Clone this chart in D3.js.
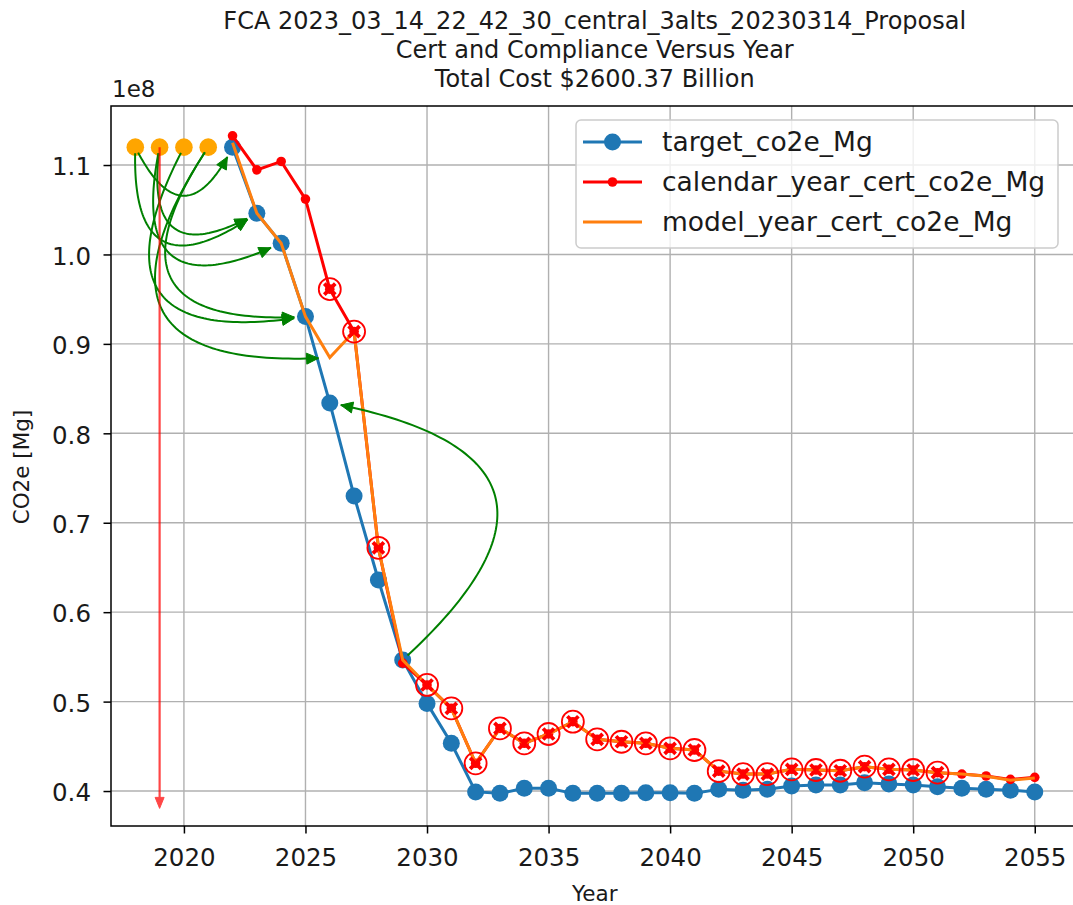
<!DOCTYPE html>
<html><head><meta charset="utf-8">
<script src="https://cdn.jsdelivr.net/npm/d3@7"></script>
<style>
body{margin:0;background:#fff}
svg{display:block}
text{font-family:"DejaVu Sans",sans-serif;fill:#1a1a1a}
</style>
</head><body>
<svg id="c" width="1073" height="905"></svg>
<script>
// ---------------- data (values in units of 1e8 Mg) ----------------
const years = [2022,2023,2024,2025,2026,2027,2028,2029,2030,2031,2032,2033,2034,2035,2036,2037,2038,2039,2040,2041,2042,2043,2044,2045,2046,2047,2048,2049,2050,2051,2052,2053,2054,2055];
const targetCo2e = [1.120,1.046,1.0126,0.9305,0.834,0.730,0.636,0.5465,0.498,0.4534,0.399,0.3974,0.403,0.403,0.3974,0.3974,0.3974,0.398,0.398,0.3974,0.4019,0.401,0.402,0.4056,0.4067,0.4067,0.4093,0.408,0.4067,0.4048,0.403,0.402,0.401,0.399];
const calendarCertCo2e = [1.1327,1.0946,1.104,1.0619,0.9612,0.9138,0.672,0.543,0.5186,0.4925,0.431,0.470,0.4534,0.4638,0.4775,0.4578,0.4551,0.4534,0.4478,0.4459,0.4222,0.419,0.419,0.4243,0.4235,0.4227,0.4272,0.4243,0.4235,0.4205,0.419,0.4168,0.413,0.4153];
const modelCertCo2e = [1.125,1.046,1.0126,0.9305,0.8847,0.9138,0.672,0.5465,0.5186,0.4925,0.431,0.470,0.4534,0.4638,0.4775,0.4578,0.4551,0.4534,0.4478,0.4459,0.4222,0.419,0.419,0.4243,0.4235,0.4227,0.4272,0.4243,0.4235,0.4205,0.419,0.4165,0.412,0.4145];
const circledYears = [2026,2027,2028,2030,2031,2032,2033,2034,2035,2036,2037,2038,2039,2040,2041,2042,2043,2044,2045,2046,2047,2048,2049,2050,2051];
const creditYears = [2018,2019,2020,2021];
const creditValues = [1.12,1.12,1.12,1.12];
// credit transfers (green arrows)
const transferFromYear  = [2018,2018,2019,2019,2020,2021,2021,2029];
const transferFromValue = [1.12,1.12,1.12,1.12,1.12,1.12,1.12,0.5465];
const transferToYear    = [2022,2023,2023,2024,2025,2025,2026,2026];
const transferToValue   = [1.120,1.046,1.046,1.0126,0.9305,0.9305,0.8847,0.834];
// expired credit (red arrow)
const expireYear = 2019, expireFrom = 1.12, expireTo = 0.3806;
const xTicks = [2020,2025,2030,2035,2040,2045,2050,2055];
const yTicks = [0.4,0.5,0.6,0.7,0.8,0.9,1.0,1.1];
const yTickLabels = ["0.4","0.5","0.6","0.7","0.8","0.9","1.0","1.1"];
const seriesNames = ["target_co2e_Mg","calendar_year_cert_co2e_Mg","model_year_cert_co2e_Mg"];
const titleLines = ["FCA 2023_03_14_22_42_30_central_3alts_20230314_Proposal","Cert and Compliance Versus Year","Total Cost $2600.37 Billion"];

// ---------------- layout ----------------
const svg = d3.select("#c");
const L = 111, R = 1078.5, T = 106, B = 826;
const x = d3.scaleLinear().domain([2017.0, 2056.8]).range([L, R]);
const y = d3.scaleLinear().domain([0.3609, 1.166]).range([B, T]);
const C_BLUE = "#1f77b4", C_RED = "#ff0000", C_ORANGE = "#ff7f0e", C_GREEN = "#008000";

svg.append("rect").attr("width",1073).attr("height",905).attr("fill","#fff");

// grid
const grid = svg.append("g");
grid.selectAll("line.gx").data(xTicks).join("line")
  .attr("x1", d=>x(d)).attr("x2", d=>x(d)).attr("y1",T).attr("y2",B)
  .attr("stroke","#b0b0b0").attr("stroke-width",1.4);
grid.selectAll("line.gy").data(yTicks).join("line")
  .attr("y1", d=>y(d)).attr("y2", d=>y(d)).attr("x1",L).attr("x2",R)
  .attr("stroke","#b0b0b0").attr("stroke-width",1.4);

const plot = svg.append("g");
const line = (vals) => d3.line().x((d,i)=>x(years[i])).y(d=>y(d))(vals);

// target
plot.append("path").attr("d", line(targetCo2e)).attr("fill","none")
  .attr("stroke",C_BLUE).attr("stroke-width",3);
plot.selectAll("circle.t").data(targetCo2e).join("circle")
  .attr("cx",(d,i)=>x(years[i])).attr("cy",d=>y(d)).attr("r",8.5).attr("fill",C_BLUE);

// calendar year cert
plot.append("path").attr("d", line(calendarCertCo2e)).attr("fill","none")
  .attr("stroke",C_RED).attr("stroke-width",3);
plot.selectAll("circle.c").data(calendarCertCo2e).join("circle")
  .attr("cx",(d,i)=>x(years[i])).attr("cy",d=>y(d)).attr("r",4.8).attr("fill",C_RED);

// model year cert
plot.append("path").attr("d", line(modelCertCo2e)).attr("fill","none")
  .attr("stroke",C_ORANGE).attr("stroke-width",3);

// circled markers
const circ = plot.selectAll("g.m").data(circledYears).join("g")
  .attr("transform", d => `translate(${x(d)},${y(calendarCertCo2e[years.indexOf(d)])})`);
circ.append("circle").attr("r",11).attr("fill","none").attr("stroke",C_RED).attr("stroke-width",1.8);
circ.append("path").attr("d","M-5.5,-5.5L5.5,5.5M-5.5,5.5L5.5,-5.5").attr("stroke",C_RED).attr("stroke-width",3.8).attr("stroke-linecap","butt");

// credit points
plot.selectAll("circle.cr").data(creditValues).join("circle")
  .attr("cx",(d,i)=>x(creditYears[i])).attr("cy",d=>y(d)).attr("r",8.8).attr("fill","#ffa500");

// arrows
function arrowHead(g, tip, dir, color, len, hw){
  const n = Math.hypot(dir[0],dir[1]); const ux=dir[0]/n, uy=dir[1]/n;
  const bx = tip[0]-ux*len, by = tip[1]-uy*len;
  g.append("path").attr("d",`M${tip[0]},${tip[1]}L${bx-uy*hw},${by+ux*hw}L${bx+uy*hw},${by-ux*hw}Z`)
    .attr("fill",color).attr("stroke",color).attr("stroke-width",1);
}
function arc3Arrow(g, p1, p2, rad, color, shrinkA, shrinkB){
  const mx=(p1[0]+p2[0])/2, my=(p1[1]+p2[1])/2, dx=p2[0]-p1[0], dy=p2[1]-p1[1];
  const c=[mx - rad*dy, my + rad*dx];
  const Bz = t => [(1-t)*(1-t)*p1[0]+2*(1-t)*t*c[0]+t*t*p2[0], (1-t)*(1-t)*p1[1]+2*(1-t)*t*c[1]+t*t*p2[1]];
  let t1=1, t0=0;
  for (let t=1; t>0; t-=0.001){ const b=Bz(t); if (Math.hypot(b[0]-p2[0],b[1]-p2[1])>=shrinkB){t1=t;break;} }
  for (let t=0; t<1; t+=0.001){ const b=Bz(t); if (Math.hypot(b[0]-p1[0],b[1]-p1[1])>=shrinkA){t0=t;break;} }
  const pts=[]; for(let i=0;i<=80;i++){ pts.push(Bz(t0+(t1-t0)*i/80)); }
  g.append("path").attr("d", d3.line()(pts)).attr("fill","none").attr("stroke",color).attr("stroke-width",2);
  const tip = Bz(t1);
  const der = [2*(1-t1)*(c[0]-p1[0])+2*t1*(p2[0]-c[0]), 2*(1-t1)*(c[1]-p1[1])+2*t1*(p2[1]-c[1])];
  arrowHead(g, tip, der, color, 12, 5.5);
}
const arrows = svg.append("g");
transferFromYear.forEach((fy,i)=>{
  arc3Arrow(arrows, [x(fy), y(transferFromValue[i])], [x(transferToYear[i]), y(transferToValue[i])], 1, C_GREEN, 6, 11);
});
// red expiry arrow
{
  const g = arrows.append("g").attr("opacity",0.72);
  const x0 = x(expireYear);
  g.append("line").attr("x1",x0).attr("x2",x0).attr("y1",y(expireFrom)).attr("y2",y(expireTo)-4)
    .attr("stroke",C_RED).attr("stroke-width",2.2);
  arrowHead(g, [x0, y(expireTo)], [0,1], C_RED, 11, 4.5);
}

// spines
svg.append("rect").attr("x",L).attr("y",T).attr("width",R-L).attr("height",B-T)
  .attr("fill","none").attr("stroke","#000").attr("stroke-width",1.5);

// axes
const xAxis = svg.append("g").attr("transform",`translate(0,${B})`)
  .call(d3.axisBottom(x).tickValues(xTicks).tickFormat(d3.format("d")).tickSize(7.5).tickPadding(15.5));
const yAxis = svg.append("g").attr("transform",`translate(${L},0)`)
  .call(d3.axisLeft(y).tickValues(yTicks).tickFormat((d,i)=>yTickLabels[i]).tickSize(7.5).tickPadding(12.5));
[xAxis,yAxis].forEach(a=>{
  a.select(".domain").remove();
  a.selectAll(".tick line").attr("stroke","#000").attr("stroke-width",1.5);
  a.selectAll(".tick text").attr("font-size",24.5).attr("font-family","DejaVu Sans").attr("fill","#1a1a1a");
});
yAxis.selectAll(".tick text").attr("dy","0.4em");

// offset text
svg.append("text").attr("x",112).attr("y",97).attr("font-size",23).text("1e8");

// axis labels
svg.append("text").attr("x",(L+R)/2).attr("y",901).attr("text-anchor","middle").attr("font-size",21.5).text("Year");
svg.append("text").attr("transform","translate(29,467) rotate(-90)").attr("text-anchor","middle").attr("font-size",21.5).text("CO2e [Mg]");

// title
svg.selectAll("text.title").data(titleLines).join("text")
  .attr("x",(L+R)/2).attr("y",(d,i)=>29+i*29).attr("text-anchor","middle").attr("font-size",24).text(d=>d);

// legend
const lg = svg.append("g");
lg.append("rect").attr("x",576).attr("y",120).attr("width",482).attr("height",128).attr("rx",5)
  .attr("fill","#fff").attr("fill-opacity",0.8).attr("stroke","#cccccc").attr("stroke-width",1.5);
const legendColors = [C_BLUE, C_RED, C_ORANGE];
const legendMarkerR = [8.5, 4.8, 0];
seriesNames.forEach((nm,i)=>{
  const ly = 142 + i*40;
  lg.append("line").attr("x1",583).attr("x2",642).attr("y1",ly).attr("y2",ly).attr("stroke",legendColors[i]).attr("stroke-width",3);
  if (legendMarkerR[i]>0) lg.append("circle").attr("cx",612.5).attr("cy",ly).attr("r",legendMarkerR[i]).attr("fill",legendColors[i]);
  lg.append("text").attr("x",662).attr("y",ly+9).attr("font-size",26.5).text(nm);
});
</script>
</body></html>
